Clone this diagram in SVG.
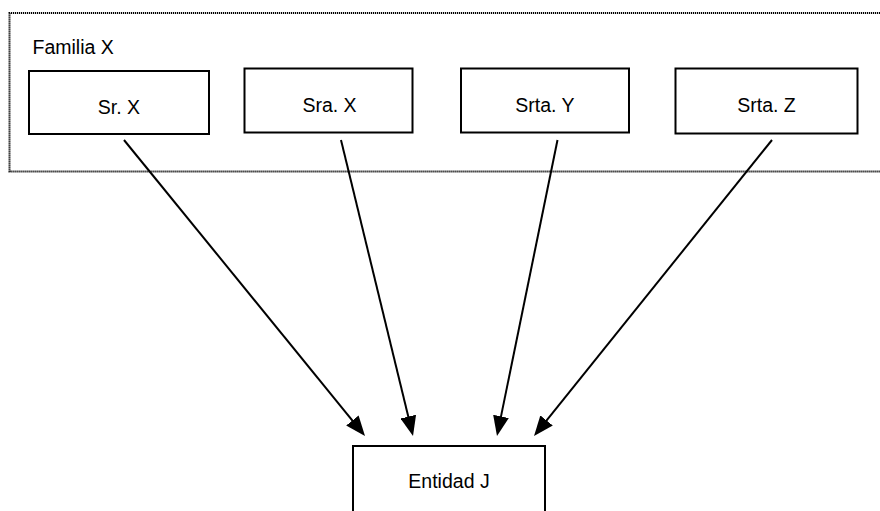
<svg xmlns="http://www.w3.org/2000/svg" width="880" height="511" viewBox="0 0 880 511">
  <style>
    .box { fill: #ffffff; stroke: #000000; stroke-width: 2; }
    .frame { fill: none; stroke: #000000; stroke-width: 2; stroke-dasharray: 1.2 0.8; }
    .label { font-family: "Liberation Sans", Arial, sans-serif; font-size: 19.5px; fill: #000000; }
    .mid { text-anchor: middle; }
    .link { stroke: #000000; stroke-width: 2; fill: none; marker-end: url(#arrow); }
  </style>
  <defs>
    <marker id="arrow" viewBox="0 0 20 16" refX="14" refY="8" markerWidth="20" markerHeight="16" markerUnits="userSpaceOnUse" orient="auto">
      <path d="M0,0 L20,8 L0,16 z" fill="#000000"/>
    </marker>
  </defs>

  <rect width="880" height="511" fill="#ffffff"/>

  <!-- family frame, open on the right -->
  <g id="familia-x">
    <path class="frame" d="M890,13 H9.5 V171.5 H890"/>
    <text class="label" x="32.5" y="54">Familia X</text>
  </g>

  <g id="sr-x">
    <rect class="box" x="29" y="71" width="180" height="63"/>
    <text class="label mid" x="119" y="114">Sr. X</text>
  </g>
  <g id="sra-x">
    <rect class="box" x="244.5" y="68.5" width="168" height="64"/>
    <text class="label mid" x="329.5" y="111.5">Sra. X</text>
  </g>
  <g id="srta-y">
    <rect class="box" x="461" y="68.5" width="168" height="64"/>
    <text class="label mid" x="545" y="111.5">Srta. Y</text>
  </g>
  <g id="srta-z">
    <rect class="box" x="675.5" y="68.5" width="182" height="65"/>
    <text class="label mid" x="766.5" y="111.5">Srta. Z</text>
  </g>

  <g id="entidad-j">
    <rect class="box" x="353" y="446" width="192" height="80"/>
    <text class="label mid" x="449" y="487.5">Entidad J</text>
  </g>

  <g id="connectors">
    <line class="link" x1="124" y1="140" x2="361.2" y2="431.3"/>
    <line class="link" x1="341" y1="140" x2="411.6" y2="430.2"/>
    <line class="link" x1="557.5" y1="140" x2="498.2" y2="430.1"/>
    <line class="link" x1="772" y1="140" x2="537.8" y2="431.3"/>
  </g>
</svg>
